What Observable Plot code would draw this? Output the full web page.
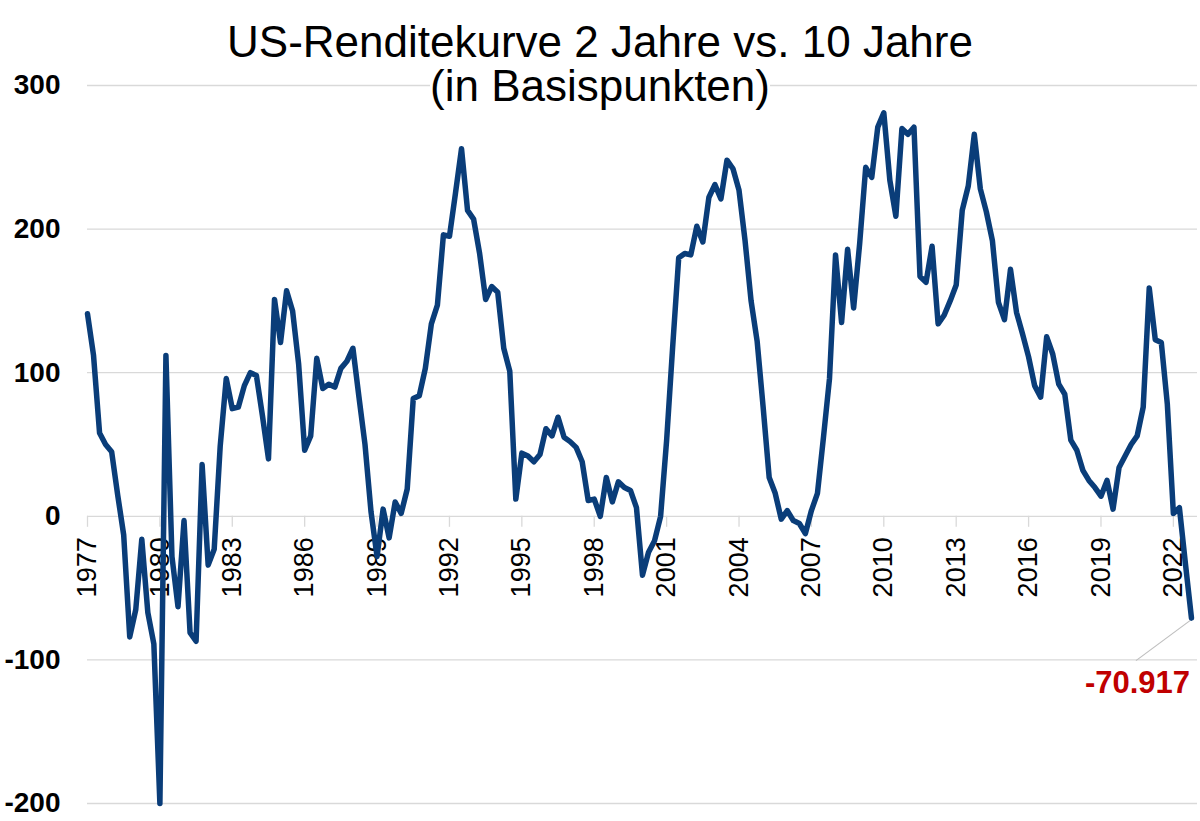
<!DOCTYPE html>
<html>
<head>
<meta charset="utf-8">
<script src="https://cdn.jsdelivr.net/npm/d3@7"></script>
<script src="https://cdn.jsdelivr.net/npm/@observablehq/plot@0.6"></script>
<style>
  html, body { margin: 0; padding: 0; background: #fff; }
  #wrap { position: relative; width: 1200px; height: 821px; font-family: "Liberation Sans", Arial, sans-serif; }
  #title { position: absolute; top: 20px; left: 0; width: 1200px; text-align: center; font-size: 44px; line-height: 44px; color: #000; z-index: 2; pointer-events: none; }
  #title span { background: #fff; display: inline-block; }
</style>
</head>
<body>
<div id="wrap">
  <div id="title">US-Renditekurve 2 Jahre vs. 10 Jahre<br><span>(in Basispunkten)</span></div>
  <div id="chart"></div>
</div>
<script>
// Quarterly spread 2Y vs 10Y (basis points), 1977 Q1 .. 2022 Q4
const startYear = 1977;
const quartersPerYear = 4;
const spreadValues = [
  141, 112, 58, 50, 45, 15, -13, -84, -65, -16, -67, -89,
  -200, 112, -28, -63, -3, -81, -87, 36, -34, -23, 49, 96,
  75, 76, 91, 100, 98, 70, 40, 151, 121, 157, 143, 106,
  46, 56, 110, 89, 92, 90, 103, 108, 117, 83, 50, 3,
  -28, 5, -15, 10, 2, 19, 82, 84, 103, 134, 147, 196,
  195, 225, 256, 213, 207, 183, 151, 160, 156, 117, 101, 12,
  44, 42, 38, 43, 61, 56, 69, 55, 52, 48, 38, 11,
  12, 0, 27, 10, 24, 20, 18, 6, -41, -25, -17, 0,
  53, 118, 180, 183, 182, 202, 191, 222, 231, 221, 248, 242,
  227, 192, 150, 122, 76, 27, 16, -2, 4, -3, -5, -12,
  4, 16, 55, 96, 182, 135, 186, 145, 190, 243, 236, 271,
  281, 234, 209, 270, 266, 271, 167, 163, 188, 134, 140, 150,
  161, 213, 230, 266, 228, 212, 192, 149, 137, 172, 142, 127,
  111, 91, 83, 125, 113, 92, 85, 53, 46, 32, 25, 20,
  14, 25, 5, 34, 42, 50, 56, 76, 159, 123, 121, 78,
  2, 6, -33, -70.917
];
const tickYears = [1977, 1980, 1983, 1986, 1989, 1992, 1995, 1998, 2001, 2004, 2007, 2010, 2013, 2016, 2019, 2022];
const yTicks = [-200, -100, 0, 100, 200, 300];
const xDomain = [1977, 2023];
const yDomain = [-200, 300];

const data = spreadValues.map((v, i) => ({ t: startYear + i / quartersPerYear, v }));
const last = data[data.length - 1];

const lineColor = "#0a3d79";
const font = "Liberation Sans, Arial, sans-serif";

const chart = Plot.plot({
  width: 1200,
  height: 821,
  marginTop: 85,
  marginBottom: 18,
  marginLeft: 87,
  marginRight: 3,
  style: { fontFamily: font, background: "#fff", color: "#000", overflow: "visible" },
  x: { domain: xDomain, axis: null },
  y: { domain: yDomain, ticks: yTicks, axis: null },
  marks: [
    Plot.gridY(yTicks, { stroke: "#d9d9d9", strokeOpacity: 1, strokeWidth: 1.3 }),
    Plot.axisY(yTicks, {
      label: null, tickSize: 0, tickPadding: 27, fontSize: 28, fontWeight: "bold",
      tickFormat: d => String(d), fill: "#000"
    }),
    Plot.ruleX(tickYears, { x: d => d, y1: 0, y2: 0, insetBottom: -11, stroke: "#d9d9d9", strokeWidth: 1.3 }),
    Plot.text(tickYears, {
      x: d => d, y: () => 0, text: d => String(d), rotate: -90, textAnchor: "end",
      dy: 21, fontSize: 27, fill: "#000"
    }),
    Plot.line(data, { x: "t", y: "v", stroke: lineColor, strokeWidth: 5.5, strokeLinejoin: "round", strokeLinecap: "round" }),
    (index, scales) => {
      const x0 = scales.x(last.t), y0 = scales.y(last.v);
      const g = d3.create("svg:g");
      g.append("line")
        .attr("x1", x0 - 1).attr("y1", y0 + 3)
        .attr("x2", x0 - 55).attr("y2", y0 + 43)
        .attr("stroke", "#bfbfbf").attr("stroke-width", 1.2);
      return g.node();
    },
    Plot.text([last], {
      x: "t", y: "v", text: d => d.v.toFixed(3), dx: -54, dy: 65,
      fontSize: 31, fontWeight: "bold", fill: "#c00000", textAnchor: "middle"
    })
  ]
});
document.getElementById("chart").appendChild(chart);
</script>
</body>
</html>
